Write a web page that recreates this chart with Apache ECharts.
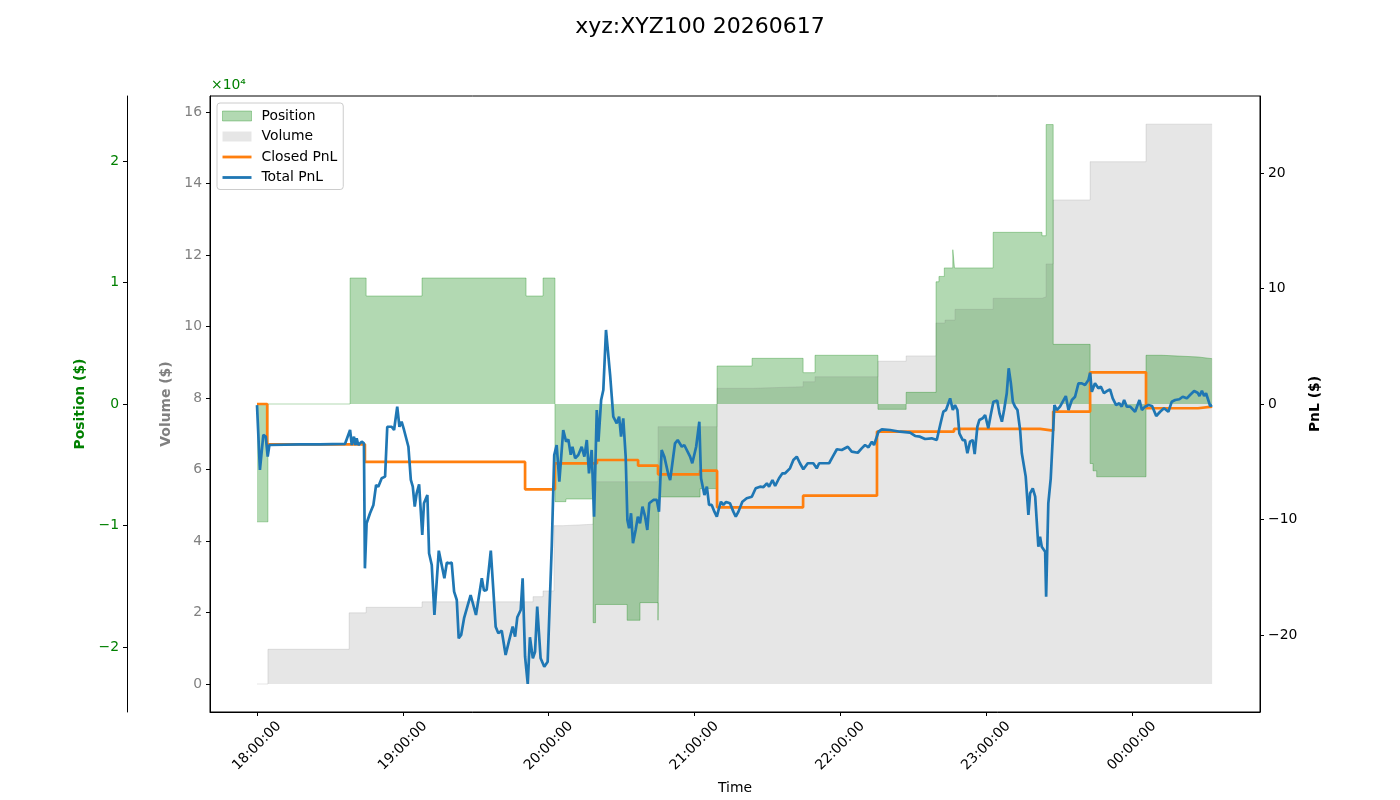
<!DOCTYPE html>
<html>
<head>
<meta charset="utf-8">
<title>xyz:XYZ100 20260617</title>
<script src="https://cdn.jsdelivr.net/npm/echarts@6/dist/echarts.min.js"></script>
<style>
  html, body { margin: 0; padding: 0; background: #fff; }
  #chart { width: 1400px; height: 800px; }
</style>
</head>
<body>
<div id="chart"></div>
<script>
// time is minutes after 18:00 (session of 2026-06-17)
const xTicks = [0, 60, 120, 180, 240, 300, 360];
const xTickLabels = ['18:00:00', '19:00:00', '20:00:00', '21:00:00', '22:00:00', '23:00:00', '00:00:00'];

const volTicks = [0, 20000, 40000, 60000, 80000, 100000, 120000, 140000, 160000];
const posTicks = [-20000, -10000, 0, 10000, 20000];
const pnlTicks = [-20, -10, 0, 10, 20];

// position ($), step values [minute, value]
const position = [
  [0, -9700], [4.5, 0], [38.3, 10370], [44.9, 8890], [67.9, 10370], [110.7, 8890],
  [117.7, 10370], [122.6, -8040], [127.1, -7820], [138.3, -18000], [139.3, -16500],
  [152.3, -17800], [157.6, -16350], [165.0, -17800], [165.4, -7650], [182.3, -6960],
  [189.3, 3130], [203.7, 3760], [224.7, 2580], [229.6, 4010], [255.5, -440],
  [267.1, 960], [279.4, 10060], [280.6, 10500], [282.8, 11200], [286.3, 12700],
  [287.0, 11200], [302.9, 14130], [323.0, 13850], [324.7, 23000], [327.6, 4910],
  [342.8, -4900], [344.0, -5500], [345.5, -5990], [365.8, 4010], [372.4, 3870],
  [387.2, 3730], [393.0, 3730]
];

// cumulative volume ($), step values [minute, value]
const volume = [
  [0, 0], [4.5, 9710], [37.9, 19900], [44.9, 21460], [67.9, 22980], [113.6, 24430],
  [117.7, 26030], [122.2, 44290], [125.9, 44680], [138.3, 56590], [165.0, 71970],
  [189.3, 82710], [203.7, 83150], [224.7, 84550], [229.6, 85950], [255.5, 90290],
  [267.1, 91770], [279.4, 100990], [283.1, 101800], [287.2, 104800], [302.9, 107880],
  [323.0, 108300], [324.7, 117500], [327.6, 135400], [342.8, 146100], [365.8, 156600],
  [393.0, 156600]
];

// closed PnL ($), step values [minute, value]
const closedPnl = [
  [0, 0], [4.2, -3.49], [44.4, -5.02], [110.3, -7.39], [122.6, -5.14], [139.9, -4.85],
  [156.8, -5.34], [165.0, -6.09], [182.3, -5.77], [189.3, -8.95], [224.7, -7.94],
  [255.1, -2.39], [286.8, -2.16], [322.2, -2.31], [327.6, -0.66], [342.8, 2.74],
  [365.8, -0.37], [387.2, -0.23], [393.0, -0.23]
];

// total PnL ($) [minute, value]
const totalPnl = [
  [0, -0.1], [1.2, -5.71], [2.6, -2.68], [3.6, -2.83], [4.4, -4.56], [5.1, -3.55],
  [17.7, -3.49], [25.9, -3.5], [36.2, -3.46], [38.3, -2.25], [39.0, -3.55], [39.9, -2.83],
  [40.5, -3.55], [41.0, -2.97], [41.7, -3.55], [43.1, -3.26], [44.0, -3.4], [44.4, -14.23],
  [45.1, -10.33], [46.5, -9.46], [47.9, -8.74], [49.0, -7.01], [49.9, -7.16], [51.3, -6.43],
  [52.7, -6.29], [53.6, -1.97], [55.4, -1.97], [56.4, -2.25], [57.7, -0.23], [58.6, -1.97],
  [59.5, -1.53], [60.5, -2.25], [62.3, -3.7], [63.3, -6.58], [64.1, -7.16], [64.9, -8.89],
  [65.7, -7.73], [66.7, -6.95], [68.0, -11.34], [68.7, -8.6], [70.1, -7.88], [70.8, -12.93],
  [71.9, -13.94], [73.0, -18.27], [74.8, -12.7], [77.1, -15.09], [78.1, -13.74], [79.1, -13.79],
  [80.1, -13.74], [81.1, -16.25], [82.2, -16.97], [83.0, -20.29], [84.0, -20.0], [85.2, -18.55],
  [87.9, -16.54], [90.1, -18.27], [92.5, -15.09], [93.4, -16.16], [94.5, -16.1], [96.2, -12.7],
  [98.2, -19.28], [99.3, -19.85], [100.7, -19.63], [102.3, -21.73], [103.8, -20.43], [105.2, -19.28],
  [106.2, -20.15], [107.1, -18.47], [108.5, -17.84], [109.3, -15.09], [110.3, -21.88], [111.4, -24.24],
  [112.3, -20.2], [113.5, -22.02], [114.4, -21.45], [115.3, -17.55], [116.7, -22.02], [118.2, -22.75],
  [119.6, -22.31], [121.3, -12.21], [122.3, -4.42], [123.3, -3.55], [124.4, -6.73], [126.0, -2.25],
  [127.2, -3.26], [128.1, -3.06], [129.1, -4.4], [129.8, -3.7], [130.9, -4.7], [132.2, -4.42],
  [133.6, -3.7], [134.7, -4.56], [135.7, -3.12], [136.6, -6.0], [137.7, -3.98], [138.7, -9.76],
  [139.8, -0.52], [140.5, -3.26], [141.6, 0.35], [142.5, 1.21], [143.6, 6.41], [145.3, 2.51],
  [146.6, -1.1], [148.0, -1.67], [149.0, -1.1], [149.8, -2.83], [150.7, -1.24], [151.7, -4.56],
  [152.4, -10.04], [153.1, -10.76], [153.9, -9.46], [154.7, -12.06], [155.8, -10.91], [156.7, -9.76],
  [157.6, -10.33], [158.6, -8.89], [159.7, -9.76], [160.6, -10.91], [161.4, -8.6], [163.1, -8.31],
  [164.5, -8.31], [165.4, -9.32], [166.5, -3.98], [167.6, -4.56], [169.3, -6.15], [170.0, -6.58],
  [172.0, -3.4], [173.1, -3.12], [174.8, -3.7], [175.8, -3.55], [178.2, -4.56], [179.1, -5.13],
  [180.7, -3.7], [182.0, -1.53], [182.7, -6.43], [184.1, -7.88], [185.1, -7.16], [186.0, -8.74],
  [187.1, -8.74], [188.2, -9.32], [189.2, -9.76], [190.1, -9.03], [190.9, -8.46], [191.9, -8.74],
  [193.0, -8.48], [194.6, -8.6], [196.0, -9.32], [197.0, -9.76], [198.1, -9.32], [199.7, -8.46],
  [201.5, -8.16], [203.6, -8.03], [205.2, -7.3], [207.0, -7.16], [208.4, -7.19], [209.8, -6.87],
  [210.7, -7.16], [212.1, -6.58], [213.2, -7.1], [214.8, -6.43], [216.2, -6.0], [217.3, -6.0],
  [219.3, -5.57], [220.7, -4.85], [222.1, -4.56], [223.4, -5.13], [224.8, -5.65], [226.6, -5.13],
  [228.9, -5.13], [230.3, -5.57], [231.3, -5.13], [235.4, -5.13], [236.9, -4.56], [238.6, -3.92],
  [240.6, -3.98], [243.1, -3.7], [244.7, -4.13], [247.2, -4.22], [248.8, -3.84], [250.2, -3.55],
  [251.6, -3.75], [253.0, -3.26], [253.9, -3.55], [255.7, -2.4], [257.1, -2.19], [260.5, -2.25],
  [264.6, -2.4], [268.7, -2.48], [270.8, -2.77], [272.8, -2.83], [274.9, -3.03], [277.6, -2.97],
  [279.7, -3.12], [281.1, -1.82], [282.4, -0.67], [283.5, -0.52], [284.3, -0.6], [285.2, 0.49],
  [286.3, -0.52], [287.2, -0.09], [288.2, -0.52], [289.0, -2.54], [290.4, -3.12], [291.3, -3.12],
  [292.3, -4.27], [293.4, -3.26], [294.5, -3.12], [295.3, -4.33], [296.4, -1.97], [297.2, -1.39],
  [298.6, -1.24], [299.6, -0.95], [300.9, -2.1], [301.9, -0.95], [303.0, 0.2], [304.6, 0.29],
  [305.5, -0.81], [306.5, -1.53], [307.4, -0.52], [308.5, 0.93], [309.3, 3.09], [310.2, 1.79],
  [311.0, 0.2], [311.9, -0.23], [312.9, -0.52], [314.0, -2.25], [314.7, -4.27], [316.3, -6.29],
  [317.4, -9.61], [318.1, -7.73], [319.2, -7.3], [320.2, -8.03], [321.5, -12.36], [322.2, -11.49],
  [322.9, -12.36], [324.3, -12.79], [324.7, -16.68], [325.6, -8.6], [326.6, -6.43], [327.4, -6.38],
  [328.1, -0.09], [329.1, -0.52], [329.7, -0.67], [330.4, -0.23], [332.8, 0.69], [333.9, -0.52],
  [335.3, 0.35], [336.6, 0.63], [338.0, 1.79], [339.4, 1.79], [340.7, 1.65], [342.1, 2.08],
  [342.8, 2.71], [343.5, 1.06], [344.8, 1.79], [346.2, 1.36], [347.2, 1.5], [348.5, 0.93],
  [349.8, 1.13], [351.0, 1.27], [352.1, 0.49], [353.5, -0.09], [354.8, 0.06], [355.8, -0.23],
  [356.8, 0.35], [357.9, -0.23], [359.3, -0.23], [361.3, -0.67], [363.1, 0.35], [364.1, -0.52],
  [365.4, -0.23], [366.8, -0.09], [368.3, -0.17], [370.0, -1.04], [371.6, -0.67], [373.2, -0.37],
  [375.0, -0.67], [376.4, 0.2], [377.8, 0.35], [379.5, 0.41], [380.9, 0.63], [382.6, 0.49],
  [383.9, 0.78], [385.6, 1.13], [387.0, 0.98], [387.8, 0.69], [388.8, 1.15], [389.7, 0.69],
  [390.5, 0.93], [391.3, 0.82], [392.2, -0.17], [393.0, -0.09]
];

const FONT = 'DejaVu Sans';
const FS = 13.9;
const minus = v => String(v).replace('-', '\u2212');

const chart = echarts.init(document.getElementById('chart'), null, { renderer: 'canvas' });

const option = {
  animation: false,
  backgroundColor: '#fff',
  textStyle: { fontFamily: FONT },
  title: {
    text: 'xyz:XYZ100 20260617',
    left: 'center',
    top: 16,
    padding: 0,
    textStyle: { fontFamily: FONT, fontSize: 22, fontWeight: 'normal', color: '#000' }
  },
  grid: {
    left: 210, right: 140, top: 96, bottom: 88,
    outerBoundsMode: 'none',
    show: true, borderColor: '#000', borderWidth: 1, backgroundColor: 'transparent'
  },
  legend: {
    orient: 'vertical',
    left: 217, top: 103,
    padding: [6, 6, 5, 5],
    itemWidth: 29, itemHeight: 10, itemGap: 6.5,
    backgroundColor: 'rgba(255,255,255,0.8)',
    borderColor: '#cccccc', borderWidth: 1, borderRadius: 3,
    textStyle: { fontFamily: FONT, fontSize: FS, color: '#000', padding: [0, 0, 0, 5] },
    data: [
      { name: 'Position', icon: 'rect', itemStyle: { color: 'rgba(0,128,0,0.3)', borderColor: 'rgba(0,128,0,0.3)', borderWidth: 1 } },
      { name: 'Volume', icon: 'rect', itemStyle: { color: 'rgba(128,128,128,0.2)', borderWidth: 0 } },
      { name: 'Closed PnL', icon: 'path://M0,0L29,0L29,2.8L0,2.8Z', itemStyle: { color: '#ff7f0e' } },
      { name: 'Total PnL', icon: 'path://M0,0L29,0L29,2.8L0,2.8Z', itemStyle: { color: '#1f77b4' } }
    ]
  },
  graphic: [{
    type: 'text', left: 211, top: 78,
    style: { text: '\u00d710\u2074', fill: '#008000', font: '13.9px "DejaVu Sans"' }
  }],
  xAxis: {
    type: 'value',
    min: -19.34, max: 412.7,
    name: 'Time', nameLocation: 'middle', nameGap: 69,
    nameTextStyle: { fontFamily: FONT, fontSize: FS, color: '#000' },
    axisLine: { onZero: false, lineStyle: { color: '#000', width: 1 } },
    axisTick: { customValues: xTicks, length: 4, lineStyle: { color: '#000' } },
    axisLabel: {
      customValues: xTicks,
      formatter: v => xTickLabels[xTicks.indexOf(v)] || '',
      rotate: 45, align: 'center', verticalAlign: 'middle', margin: 34,
      fontFamily: FONT, fontSize: FS, color: '#000'
    },
    splitLine: { show: false }
  },
  yAxis: [
    {
      // volume
      type: 'value', position: 'left', offset: 0,
      min: -7832, max: 164475,
      name: 'Volume ($)', nameLocation: 'middle', nameGap: 33, nameRotate: 90,
      nameTextStyle: { fontFamily: FONT, fontSize: FS, fontWeight: 'bold', color: 'gray' },
      axisLine: { show: true, onZero: false, lineStyle: { color: '#000' } },
      axisTick: { show: true, customValues: volTicks, length: 4, lineStyle: { color: '#000' } },
      axisLabel: {
        customValues: volTicks, formatter: v => String(v / 10000),
        margin: 8, fontFamily: FONT, fontSize: FS, color: 'gray'
      },
      splitLine: { show: false }
    },
    {
      // position
      type: 'value', position: 'left', offset: 83,
      min: -25350, max: 25350,
      name: 'Position ($)', nameLocation: 'middle', nameGap: 35, nameRotate: 90,
      nameTextStyle: { fontFamily: FONT, fontSize: FS, fontWeight: 'bold', color: 'green' },
      axisLine: { show: true, onZero: false, lineStyle: { color: '#000' } },
      axisTick: { show: true, customValues: posTicks, length: 4, lineStyle: { color: '#000' } },
      axisLabel: {
        customValues: posTicks, formatter: v => minus(v / 10000),
        margin: 8, fontFamily: FONT, fontSize: FS, color: 'green'
      },
      splitLine: { show: false }
    },
    {
      // pnl
      type: 'value', position: 'right', offset: 0,
      min: -26.67, max: 26.67,
      name: 'PnL ($)', nameLocation: 'middle', nameGap: 45, nameRotate: 90,
      nameTextStyle: { fontFamily: FONT, fontSize: FS, fontWeight: 'bold', color: '#000' },
      axisLine: { show: true, onZero: false, lineStyle: { color: '#000' } },
      axisTick: { show: true, customValues: pnlTicks, length: 4, lineStyle: { color: '#000' } },
      axisLabel: {
        customValues: pnlTicks, formatter: v => minus(v),
        margin: 8, fontFamily: FONT, fontSize: FS, color: '#000'
      },
      splitLine: { show: false }
    }
  ],
  series: [
    {
      name: 'Volume', type: 'line', yAxisIndex: 0, step: 'end',
      showSymbol: false, symbol: 'none',
      lineStyle: { color: 'rgba(128,128,128,0.2)', width: 1 },
      itemStyle: { color: 'rgba(128,128,128,0.2)' },
      areaStyle: { color: 'rgba(128,128,128,0.2)', opacity: 1, origin: 0 },
      data: volume
    },
    {
      name: 'Position', type: 'line', yAxisIndex: 1, step: 'end',
      showSymbol: false, symbol: 'none',
      lineStyle: { color: 'rgba(0,128,0,0.3)', width: 1 },
      itemStyle: { color: 'rgba(0,128,0,0.3)' },
      areaStyle: { color: 'rgba(0,128,0,0.3)', opacity: 1, origin: 0 },
      data: position
    },
    {
      name: 'Closed PnL', type: 'line', yAxisIndex: 2, step: 'end',
      showSymbol: false, symbol: 'none',
      lineStyle: { color: '#ff7f0e', width: 2.7 },
      itemStyle: { color: '#ff7f0e' },
      data: closedPnl
    },
    {
      name: 'Total PnL', type: 'line', yAxisIndex: 2,
      showSymbol: false, symbol: 'none',
      lineStyle: { color: '#1f77b4', width: 2.7 },
      itemStyle: { color: '#1f77b4' },
      data: totalPnl
    }
  ]
};

chart.setOption(option);
</script>
</body>
</html>
